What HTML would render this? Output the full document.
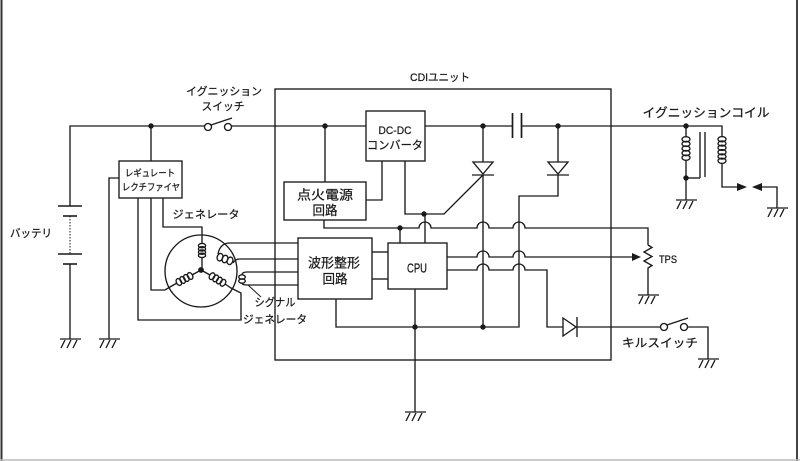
<!DOCTYPE html>
<html><head><meta charset="utf-8"><style>
html,body{margin:0;padding:0;background:#fff;}
svg{display:block;}
text{font-family:"Liberation Sans","Noto Sans CJK JP",sans-serif;fill:#1a1a1a;stroke:#1a1a1a;stroke-width:0.25;}
</style></head><body>
<svg width="800" height="461" viewBox="0 0 800 461" xmlns="http://www.w3.org/2000/svg">
<rect width="800" height="461" fill="#fff"/>
<!-- page border -->
<line x1="1.5" y1="0" x2="1.5" y2="461" stroke="#333" stroke-width="2"/>
<line x1="797" y1="0" x2="797" y2="461" stroke="#444" stroke-width="2"/>
<line x1="0" y1="460" x2="800" y2="460" stroke="#bbb" stroke-width="1.5"/>

<g fill="none" stroke="#1a1a1a" stroke-width="1.35">
<!-- CDI box -->
<rect x="275" y="89" width="336" height="271"/>
<!-- main line -->
<path d="M70,206 V126 H204.5"/>
<path d="M231.5,126 H366"/>
<path d="M425,126 H512.5"/>
<path d="M521.5,126 H722 V137"/>
<!-- capacitor -->
<line x1="512.5" y1="113" x2="512.5" y2="138" stroke-width="1.7"/>
<line x1="521.5" y1="113" x2="521.5" y2="138" stroke-width="1.7"/>
<!-- ignition switch -->
<circle cx="208" cy="127" r="3.5"/>
<circle cx="228" cy="127" r="3.5"/>
<line x1="211" y1="125" x2="232" y2="118"/>
<!-- battery -->
<line x1="58" y1="206" x2="82" y2="206" stroke-width="1.6"/>
<line x1="63" y1="216" x2="77" y2="216" stroke-width="1.6"/>
<line x1="70" y1="216" x2="70" y2="254" stroke-dasharray="1.5,1.5" stroke-width="1"/>
<line x1="58" y1="254" x2="82" y2="254" stroke-width="1.6"/>
<line x1="63" y1="264" x2="77" y2="264" stroke-width="1.6"/>
<path d="M70,264 V339"/>
<!-- regulator -->
<path d="M151,126 V161"/>
<rect x="119" y="161" width="63" height="37"/>
<path d="M119,178 H109 V339"/>
<path d="M163,198 V227 H202 V244"/>
<path d="M202,257 V271"/>
<path d="M151,198 V290 H165 L170,287 L177,283"/>
<path d="M192,275 L201,270"/>
<path d="M201,270 L210,275"/>
<path d="M225,284 L231,288 L241,293 V320 H138 V198"/>
<!-- generator circle -->
<circle cx="201" cy="271" r="36"/>
<!-- upper right coil wires -->
<path d="M298,243 H230 Q220,243 218,254"/>
<path d="M233,263 Q235,259 240,259 H298"/>
<!-- signal coil wires -->
<path d="M298,272 H247 Q242,272 242,275"/>
<path d="M242,283 Q242,285 247,285 H298"/>
<line x1="248" y1="285" x2="261" y2="297" stroke-width="1"/>
<!-- boxes -->
<rect x="298" y="238" width="74" height="61"/>
<rect x="388" y="243" width="59" height="46"/>
<rect x="284" y="182" width="82" height="38"/>
<rect x="366" y="111" width="59" height="50"/>
<path d="M372,252 H388"/>
<path d="M372,279 H388"/>
<path d="M325,126 V182"/>
<path d="M382,161 V200 H366"/>
<path d="M405,161 V214 H444 L483,175"/>
<path d="M425,214 V243"/>
<path d="M400,228 V243"/>
<!-- line A -->
<path d="M324,220 V228 H419 A6,6 0 0 1 431,228 H477 A6,6 0 0 1 489,228 H513 A6,6 0 0 1 525,228 H648 V245"/>
<!-- TPS resistor -->
<path d="M648,245 L652,247.5 L644,252 L652,256.5 L644,261 L652,265.5 L648,268 V295"/>
<!-- line B -->
<path d="M447,257 H477 A6,6 0 0 1 489,257 H513 A6,6 0 0 1 525,257 H633"/>
<!-- line C -->
<path d="M447,270 H477 A6,6 0 0 1 489,270 H513 A6,6 0 0 1 525,270 H547 V327 H563"/>
<path d="M577,327 H660.5"/>
<!-- kill switch -->
<circle cx="664" cy="327" r="3.5"/>
<circle cx="684" cy="327" r="3.5"/>
<line x1="667" y1="325" x2="688" y2="318"/>
<path d="M687.5,327 H708 V359"/>
<!-- verticals inside CDI -->
<path d="M483,126 V162"/>
<path d="M483,175 V327"/>
<path d="M558,126 V162"/>
<path d="M558,175 V196 H519 V327 H336 V299"/>
<path d="M415,289 V412"/>
<!-- thyristor / diodes -->
<path d="M473,162 H493 L483,174 Z"/>
<line x1="472" y1="175" x2="494" y2="175"/>
<path d="M548,162 H568 L558,174 Z"/>
<line x1="547" y1="175" x2="569" y2="175"/>
<path d="M563,318 V336 L576,327 Z"/>
<line x1="577" y1="317" x2="577" y2="337"/>
<!-- ignition coil -->
<path d="M686,126 V137"/>
<path d="M686,160 V200"/>
<path d="M686,178 H700"/>
<line x1="700" y1="132" x2="700" y2="178"/>
<line x1="705" y1="132" x2="705" y2="177"/>
<path d="M722,163 V187 H738"/>
<path d="M761,187 H777 V208"/>
<!-- grounds -->
<g>
<path d="M60,339 H81"/>
<path d="M65,340 L61,348 M71,340 L67,348 M77,340 L73,348"/>
</g>
<g transform="translate(39,0)"><path d="M60,339 H81"/><path d="M65,340 L61,348 M71,340 L67,348 M77,340 L73,348"/></g>
<g transform="translate(345,73)"><path d="M60,339 H81"/><path d="M65,340 L61,348 M71,340 L67,348 M77,340 L73,348"/></g>
<g transform="translate(578,-44)"><path d="M60,339 H81"/><path d="M65,340 L61,348 M71,340 L67,348 M77,340 L73,348"/></g>
<g transform="translate(638,20)"><path d="M60,339 H81"/><path d="M65,340 L61,348 M71,340 L67,348 M77,340 L73,348"/></g>
<g transform="translate(616,-139)"><path d="M60,339 H81"/><path d="M65,340 L61,348 M71,340 L67,348 M77,340 L73,348"/></g>
<g transform="translate(707,-131)"><path d="M60,339 H81"/><path d="M65,340 L61,348 M71,340 L67,348 M77,340 L73,348"/></g>
<!-- coils -->
<g transform="translate(202,250.5) rotate(90)">
<ellipse cx="-4.9" cy="0" rx="2.2" ry="3.6"/><ellipse cx="-1.6" cy="0" rx="2.2" ry="3.6"/><ellipse cx="1.6" cy="0" rx="2.2" ry="3.6"/><ellipse cx="4.9" cy="0" rx="2.2" ry="3.6"/>
</g>
<g transform="translate(184.5,279) rotate(-28)">
<ellipse cx="-6.4" cy="0" rx="2.5" ry="3.6"/><ellipse cx="-2.1" cy="0" rx="2.5" ry="3.6"/><ellipse cx="2.1" cy="0" rx="2.5" ry="3.6"/><ellipse cx="6.4" cy="0" rx="2.5" ry="3.6"/>
</g>
<g transform="translate(217.5,279.5) rotate(31)">
<ellipse cx="-6.4" cy="0" rx="2.5" ry="3.6"/><ellipse cx="-2.1" cy="0" rx="2.5" ry="3.6"/><ellipse cx="2.1" cy="0" rx="2.5" ry="3.6"/><ellipse cx="6.4" cy="0" rx="2.5" ry="3.6"/>
</g>
<g transform="translate(225,259) rotate(20)">
<ellipse cx="-5.3" cy="0" rx="2.8" ry="3.8"/><ellipse cx="0" cy="0" rx="2.8" ry="3.8"/><ellipse cx="5.3" cy="0" rx="2.8" ry="3.8"/>
</g>
<g transform="translate(242,279) rotate(90)">
<ellipse cx="-2" cy="0" rx="2.2" ry="3.3"/><ellipse cx="2" cy="0" rx="2.2" ry="3.3"/>
</g>
<g transform="translate(686,148.5) rotate(90)">
<ellipse cx="-9.2" cy="0" rx="2.6" ry="4"/><ellipse cx="-4.6" cy="0" rx="2.6" ry="4"/><ellipse cx="0" cy="0" rx="2.6" ry="4"/><ellipse cx="4.6" cy="0" rx="2.6" ry="4"/><ellipse cx="9.2" cy="0" rx="2.6" ry="4"/>
</g>
<g transform="translate(722,150) rotate(90)">
<ellipse cx="-10.8" cy="0" rx="2.6" ry="4"/><ellipse cx="-6.5" cy="0" rx="2.6" ry="4"/><ellipse cx="-2.2" cy="0" rx="2.6" ry="4"/><ellipse cx="2.2" cy="0" rx="2.6" ry="4"/><ellipse cx="6.5" cy="0" rx="2.6" ry="4"/><ellipse cx="10.8" cy="0" rx="2.6" ry="4"/>
</g>
</g>

<!-- filled items -->
<g fill="#1a1a1a">
<circle cx="151" cy="126" r="2.7"/>
<circle cx="325" cy="126" r="2.7"/>
<circle cx="483" cy="126" r="2.7"/>
<circle cx="558" cy="126" r="2.7"/>
<circle cx="400" cy="228" r="2.7"/>
<circle cx="424" cy="214" r="2.7"/>
<circle cx="415" cy="327" r="2.7"/>
<circle cx="483" cy="327" r="2.7"/>
<circle cx="686" cy="126" r="2.7"/>
<circle cx="686" cy="178" r="2.7"/>
<circle cx="201" cy="270" r="2.9"/>
<path d="M632,253 L641,257 L632,261 Z"/>
<path d="M737,183 L747,187 L737,191 Z"/>
<path d="M762,183 L752,187 L762,191 Z"/>
</g>

<!-- labels -->
<text x="224" y="95" font-size="11" text-anchor="middle" textLength="76" lengthAdjust="spacingAndGlyphs">イグニッション</text>
<text x="223" y="110" font-size="11" text-anchor="middle" textLength="43" lengthAdjust="spacingAndGlyphs">スイッチ</text>
<text x="440" y="81" font-size="11" text-anchor="middle" textLength="60" lengthAdjust="spacingAndGlyphs">CDIユニット</text>
<text x="706" y="117" font-size="12.5" text-anchor="middle" textLength="127" lengthAdjust="spacingAndGlyphs">イグニッションコイル</text>
<text x="150" y="176.5" font-size="9.5" text-anchor="middle" textLength="50" lengthAdjust="spacingAndGlyphs">レギュレート</text>
<text x="151" y="190.5" font-size="9.5" text-anchor="middle" textLength="58" lengthAdjust="spacingAndGlyphs">レクチファイヤ</text>
<text x="206" y="218" font-size="11" text-anchor="middle" textLength="67" lengthAdjust="spacingAndGlyphs">ジェネレータ</text>
<text x="31" y="237" font-size="11" text-anchor="middle" textLength="42" lengthAdjust="spacingAndGlyphs">バッテリ</text>
<text x="325" y="199.5" font-size="13" text-anchor="middle" textLength="56" lengthAdjust="spacingAndGlyphs">点火電源</text>
<text x="325" y="215" font-size="13" text-anchor="middle" textLength="25" lengthAdjust="spacingAndGlyphs">回路</text>
<text x="395" y="134" font-size="11" text-anchor="middle" textLength="33" lengthAdjust="spacingAndGlyphs">DC-DC</text>
<text x="395" y="149" font-size="11.5" text-anchor="middle" textLength="56" lengthAdjust="spacingAndGlyphs">コンバータ</text>
<text x="334" y="267.5" font-size="13" text-anchor="middle" textLength="52" lengthAdjust="spacingAndGlyphs">波形整形</text>
<text x="335" y="283.5" font-size="13" text-anchor="middle" textLength="25" lengthAdjust="spacingAndGlyphs">回路</text>
<text x="417" y="272.5" font-size="12.5" text-anchor="middle" textLength="20" lengthAdjust="spacingAndGlyphs">CPU</text>
<text x="668" y="263" font-size="11" text-anchor="middle" textLength="18" lengthAdjust="spacingAndGlyphs">TPS</text>
<text x="275" y="306" font-size="11" text-anchor="middle" textLength="41" lengthAdjust="spacingAndGlyphs">シグナル</text>
<text x="275" y="323" font-size="11" text-anchor="middle" textLength="64" lengthAdjust="spacingAndGlyphs">ジェネレータ</text>
<text x="660" y="347" font-size="12" text-anchor="middle" textLength="76" lengthAdjust="spacingAndGlyphs">キルスイッチ</text>
</svg>
</body></html>
